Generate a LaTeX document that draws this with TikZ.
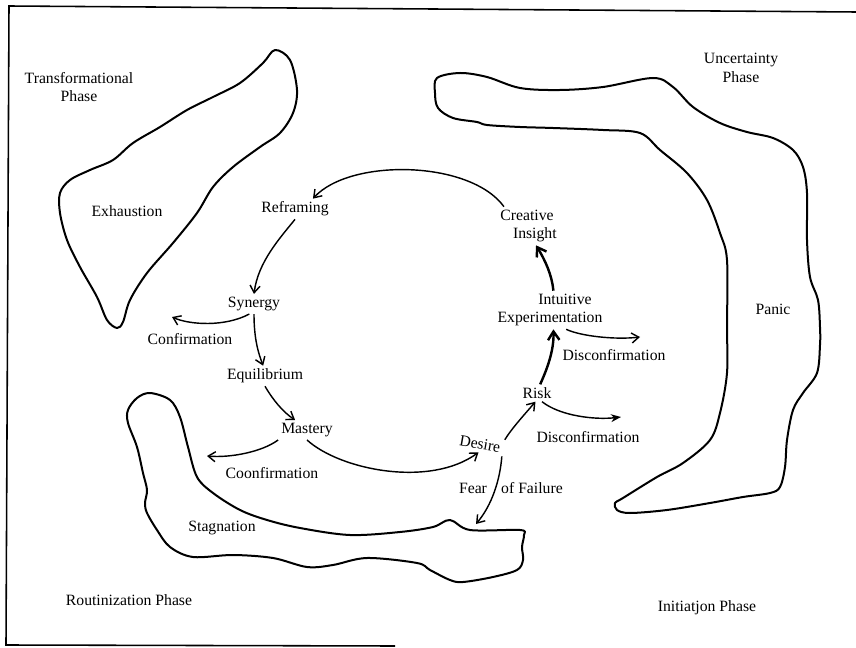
\documentclass[tikz,border=0pt]{standalone}
\usepackage{fontspec}
\setmainfont{Liberation Serif}
\usetikzlibrary{arrows.meta}
\begin{document}
\begin{tikzpicture}[x=0.7pt,y=-0.7pt,
  lbl/.style={font=\fontsize{11}{13}\selectfont, inner sep=2pt, align=center},
  blob/.style={line width=1.4pt, line join=round},
  conn/.style={line width=1pt, -{Straight Barb[length=5pt,width=7pt]}},
  thickconn/.style={line width=1.7pt, -{Straight Barb[length=6pt,width=8pt]}},
  fillconn/.style={line width=1pt, -{Stealth[length=7pt,width=5.5pt]}},
  framestyle/.style={line width=1.1pt}]
\useasboundingbox (0,0) rectangle (856,648);

% frame
\draw[framestyle] (856,12) -- (9,6) -- (6,645) -- (395,646);

% blobs
\draw[blob] plot[smooth cycle, tension=0.55] coordinates {
 (275,50) (290,60) (297,90) (293,113) (280,133) (260,147) (233,167) (213,187)
 (197,213) (173,243) (147,273) (130,300) (123,322) (117,328) (107,320) (97,297)
 (80,267) (67,240) (60,213) (60,193) (70,180) (90,170) (113,160) (133,143)
 (160,127) (187,110) (213,97) (240,83) (263,63)};

\draw[blob] plot[smooth cycle, tension=0.55] coordinates {
 (437,78) (460,73) (487,77) (520,88) (560,90) (603,87) (653,78) (673,87)
 (693,107) (720,123) (747,132) (773,138) (793,150) (803,167) (807,193) (807,240)
 (810,277) (818,300) (820,327) (820,345) (817,373) (803,393) (793,410) (787,440)
 (785,467) (780,487) (770,493) (743,497) (710,503) (667,510) (630,513) (617,510)
 (615,503) (623,498) (657,477) (683,463) (710,440) (720,413) (727,373) (727,327)
 (727,260) (720,233) (707,200) (687,173) (660,150) (640,133) (603,130) (553,128)
 (520,127) (487,125) (477,122) (453,118) (438,108) (435,93)};

\draw[blob] plot[smooth cycle, tension=0.55] coordinates {
 (150,393) (170,400) (180,417) (188,447) (197,477) (213,493) (240,510) (267,520)
 (300,528) (350,535) (400,532) (433,527) (450,520) (470,530) (520,530) (524,535)
 (522,547) (523,560) (517,570) (493,577) (463,582) (450,580) (430,570) (417,563)
 (367,558) (333,565) (307,567) (273,558) (233,555) (193,557) (170,547) (157,530)
 (147,513) (145,503) (147,490) (143,473) (137,447) (128,423) (128,410) (137,398)};

% labels
\node[lbl] (transf) at (79,87) {Transformational\\Phase};
\node[lbl] (exh) at (127,211) {Exhaustion};
\node[lbl] (unc) at (741,68) {Uncertainty\\Phase};
\node[lbl] (panic) at (773,309) {Panic};
\node[lbl] (refr) at (295,209) {Reframing};
\node[lbl] (creat) at (527,226) {Creative\\\hspace*{11pt}Insight};
\node[lbl] (syn) at (254,304) {Synergy};
\node[lbl] (conf) at (190,339) {Confirmation};
\node[lbl] (equi) at (265,376) {Equilibrium};
\node[lbl] (mast) at (307,430) {Mastery};
\node[lbl] (coonf) at (272,473) {Coonfirmation};
\node[lbl] (stag) at (222,528) {Stagnation};
\node[lbl, rotate=-10] (des) at (480,444) {Desire};
\node[lbl] (risk) at (537,393) {Risk};
\node[lbl] (intu) at (550,310) {\hspace*{21pt}Intuitive\\Experimentation};
\node[lbl] (disc1) at (614,355) {Disconfirmation};
\node[lbl] (disc2) at (588,437) {Disconfirmation};
\node[lbl] (fear) at (473,488) {Fear};
\node[lbl] (fail) at (532,488) {of Failure};
\node[lbl] (rout) at (129,600) {Routinization Phase};
\node[lbl] (init) at (707,608) {Initiatjon Phase};

% free arrow ends
\coordinate (confTip) at (172,317);
\coordinate (coTip) at (207,456);
\coordinate (dTipA) at (640,337);
\coordinate (dTipB) at (621,417);
\coordinate (fTip) at (476,524);

% connectors
\draw[conn] (creat.140) .. controls (470,160) and (350,158) .. (refr.30);
\draw[conn] (refr.south) .. controls (280,238) and (258,262) .. (syn.north);
\draw[conn] (syn.south) .. controls (254,335) and (257,350) .. (equi.100);
\draw[conn] (syn.-115) .. controls (225,327) and (190,325) .. (confTip);
\draw[conn] (equi.south) .. controls (273,400) and (283,412) .. (mast.140);
\draw[conn] (mast.south west) .. controls (262,452) and (230,458) .. (coTip);
\draw[conn] (mast.south) .. controls (340,470) and (430,488) .. (des.south);
\draw[conn] (des.north east) .. controls (512,428) and (525,414) .. (risk.-100);
\draw[fillconn] (risk.-60) .. controls (560,416) and (595,420) .. (dTipB);
\draw[thickconn] (risk.70) .. controls (549,365) and (554,348) .. (intu.-80);
\draw[conn] (intu.-50) .. controls (580,336) and (615,340) .. (dTipA);
\draw[thickconn] (intu.80) .. controls (552,275) and (545,260) .. (creat.-65);
\draw[conn] (des.south east) .. controls (500,480) and (492,505) .. (fTip);
\end{tikzpicture}
\end{document}
